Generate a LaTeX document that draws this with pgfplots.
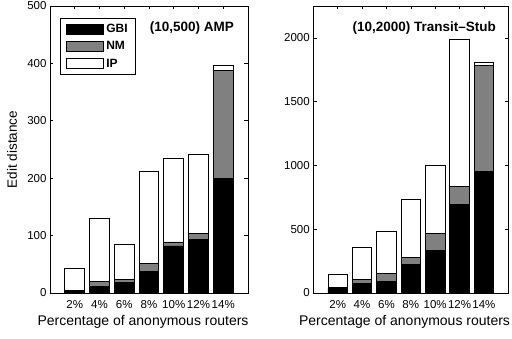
\documentclass[border=0pt]{standalone}
\usepackage{fontspec}
\setmainfont{Liberation Sans}
\usepackage{pgfplots}
\pgfplotsset{compat=1.18}
\definecolor{nmgray}{RGB}{128,128,128}
\pgfplotsset{
  mybars/.style={
    scale only axis, height=287pt,
    ybar stacked, bar width=0.8,
    xmin=0, xmax=8, ymin=0,
    xtick={1,2,3,4,5,6,7},
    xticklabels={2\%,4\%,6\%,8\%,10\%,12\%,14\%},
    tick align=inside,
    major tick length=3.5pt,
    tick style={black, line width=0.6pt},
    axis line style={black, line width=0.8pt},
    /pgf/number format/assume math mode=true,
    /pgf/number format/1000 sep={},
    scaled y ticks=false,
    tick label style={font=\fontsize{11.5}{13}\selectfont},
    x tick label style={yshift=-3.5pt},
    every axis x label/.style={at={(axis description cs:0.47,-0.101)}, anchor=center, font=\fontsize{14}{16}\selectfont},
    every axis y label/.style={at={(axis description cs:-0.192,0.5)}, rotate=90, anchor=center, font=\fontsize{13.5}{16}\selectfont},
    xlabel={Percentage of anonymous routers},
    legend image code/.code={\draw[#1, line width=0.8pt] (0pt,-5pt) rectangle (37pt,5pt);},
  },
  gbi/.style={fill=black, draw=black, line width=0.8pt},
  nm/.style={fill=nmgray, draw=black, line width=0.8pt},
  ip/.style={fill=white, draw=black, line width=0.8pt},
}
\begin{document}
\begin{tikzpicture}[x=1pt,y=1pt]
\begin{axis}[mybars, at={(50pt,46pt)}, anchor=south west, width=198pt,
  ymax=500, ytick={0,100,200,300,400,500},
  ylabel={Edit distance},
  legend style={at={(axis description cs:0.0505,0.959)}, anchor=north west,
    draw=black, line width=1pt, font=\bfseries\fontsize{12}{14}\selectfont,
    inner xsep=6pt, inner ysep=4pt, row sep=3.5pt, cells={anchor=west}},
]
\addplot[gbi] coordinates {(1,2) (2,11) (3,19) (4,38) (5,82) (6,94) (7,200)};
\addplot[nm] coordinates {(1,2) (2,9) (3,4) (4,13) (5,7) (6,10) (7,187)};
\addplot[ip] coordinates {(1,39) (2,110) (3,61) (4,161) (5,146) (6,137) (7,9)};
\legend{GBI,NM,IP}
\node[font=\bfseries\fontsize{13.5}{16}\selectfont, anchor=center] at (axis description cs:0.717,0.923) {(10,500) AMP};
\end{axis}
\begin{axis}[mybars, at={(313.3pt,46pt)}, anchor=south west, width=195pt,
  ymax=2250, ytick={0,500,1000,1500,2000},
  every axis x label/.style={at={(axis description cs:0.468,-0.101)}, anchor=center, font=\fontsize{14}{16}\selectfont},
]
\addplot[gbi] coordinates {(1,36) (2,72) (3,94) (4,227) (5,333) (6,693) (7,951)};
\addplot[nm] coordinates {(1,5) (2,37) (3,57) (4,52) (5,136) (6,143) (7,834)};
\addplot[ip] coordinates {(1,107) (2,251) (3,331) (4,451) (5,534) (6,1155) (7,21)};
\node[font=\bfseries\fontsize{13.5}{16}\selectfont, anchor=center] at (axis description cs:0.569,0.923) {(10,2000) Transit--Stub};
\end{axis}
\pgfresetboundingbox
\useasboundingbox (0,0) rectangle (512,339);
\end{tikzpicture}
\end{document}
